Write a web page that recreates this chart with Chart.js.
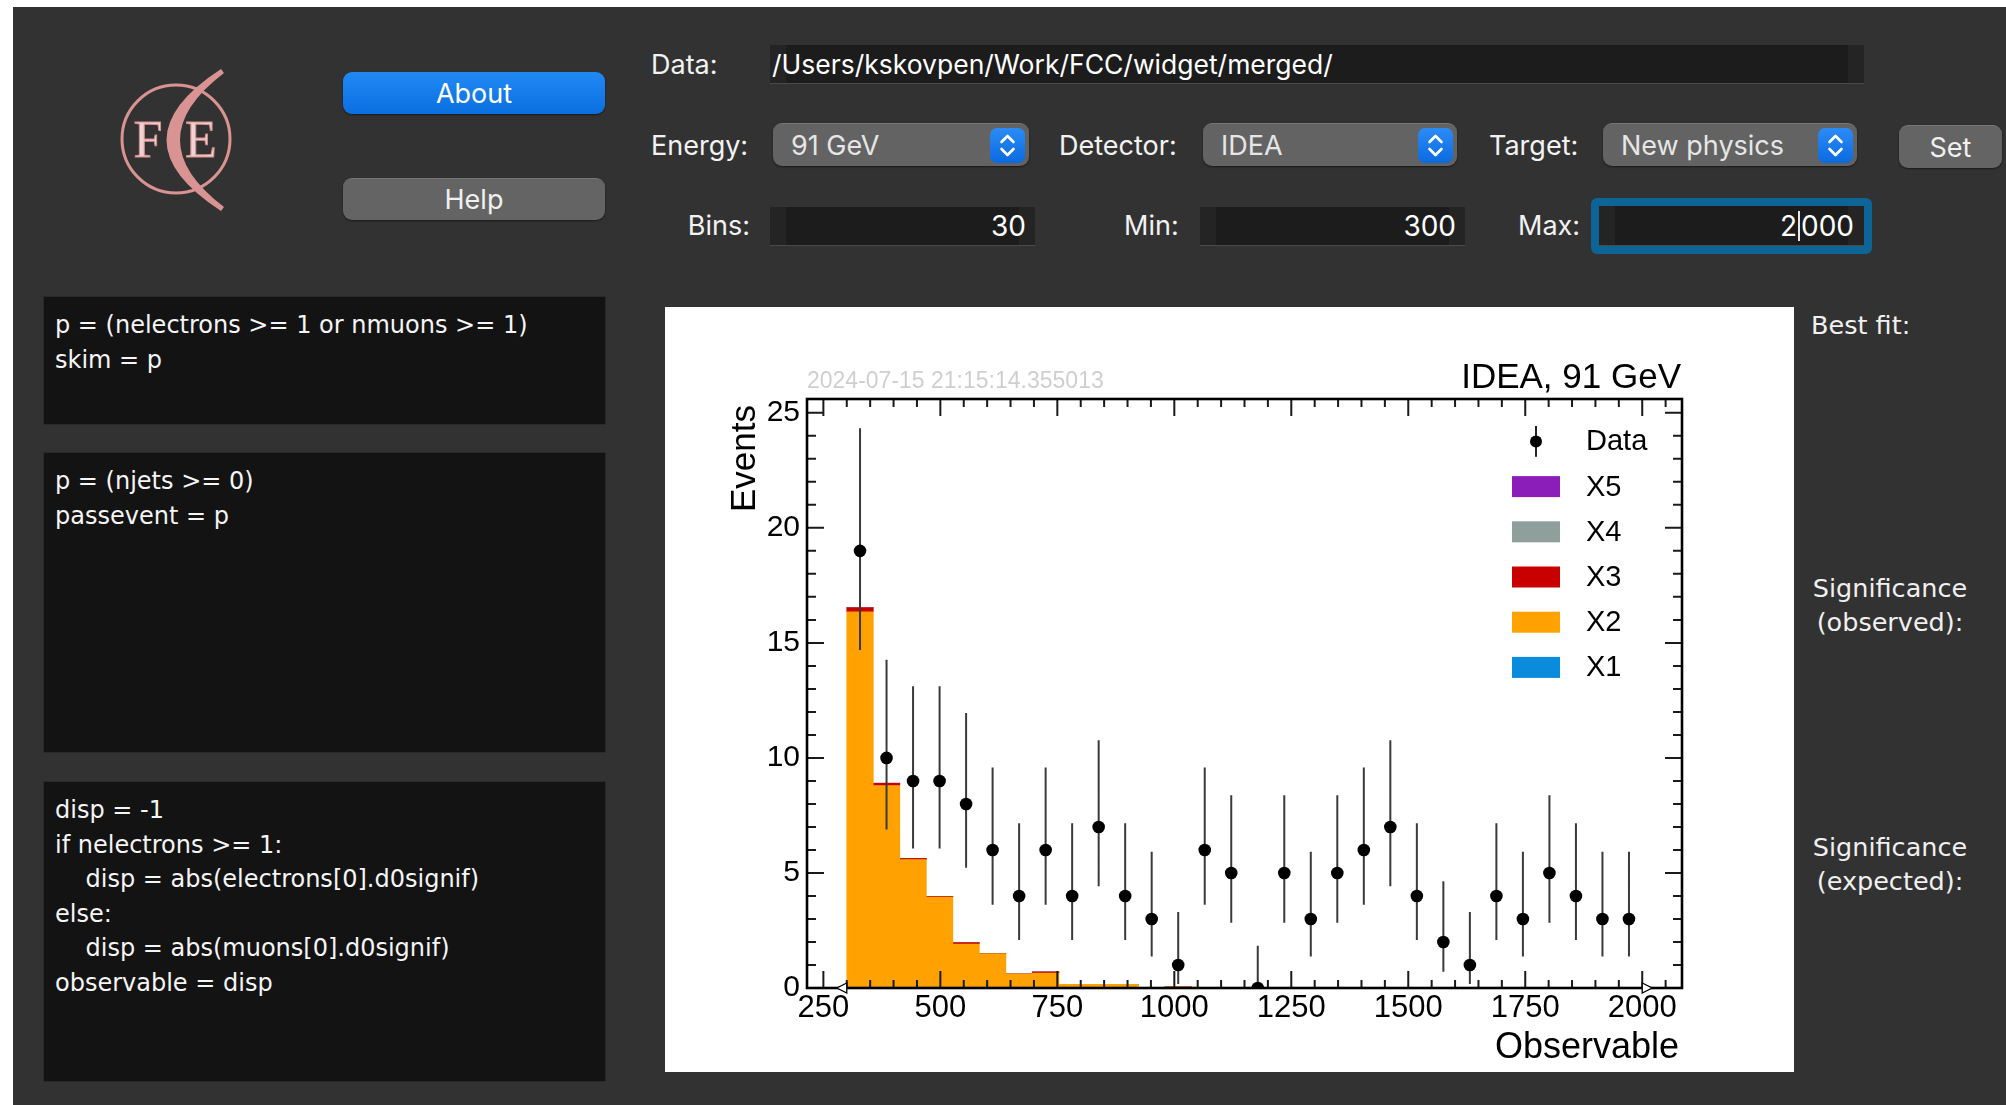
<!DOCTYPE html>
<html>
<head>
<meta charset="utf-8">
<title>FCC widget</title>
<script src="https://cdn.jsdelivr.net/npm/chart.js@4.4.1/dist/chart.umd.min.js"></script>
<style>
  html, body { margin: 0; padding: 0; }
  body {
    width: 2006px; height: 1105px; position: relative; overflow: hidden;
    background: #323232; color: #fff;
    font-family: Inter, "Noto Sans", sans-serif;
  }
  .strip-top { position: absolute; left: 0; top: 0; width: 2006px; height: 7px; background: #fff; }
  .strip-left { position: absolute; left: 0; top: 0; width: 13px; height: 1105px; background: #fff; }
  .btn {
    position: absolute; box-sizing: border-box; border-radius: 9px;
    display: flex; align-items: center; justify-content: center;
    font-size: 27px; color: #fff;
  }
  .btn.blue { background: linear-gradient(#2189f4, #0a6fe0); box-shadow: 0 1px 2px rgba(0,0,0,.5); }
  .btn.gray { background: #646464; border-top: 1px solid #777; box-shadow: 0 1px 2px rgba(0,0,0,.5); color: #f0f0f0; }
  .lbl { position: absolute; font-size: 27px; line-height: 40px; height: 40px; color: #f2f2f2; white-space: nowrap; }
  .field {
    position: absolute; box-sizing: border-box; font-size: 28px; color: #fff; white-space: nowrap;
    display: flex; align-items: center;
    background: linear-gradient(to right, #242424 0 16px, #1c1c1c 16px calc(100% - 16px), #242424 calc(100% - 16px));
    border-bottom: 1px solid #4a4a4a;
  }
  .field.num { justify-content: flex-end; padding-right: 9px; }
  .select {
    position: absolute; box-sizing: border-box; border-radius: 9px;
    background: #636363; border-top: 1px solid #767676; box-shadow: 0 1px 2px rgba(0,0,0,.5);
    font-size: 27px; color: #e6e6e6; display: flex; align-items: center; padding-left: 18px;
  }
  .stepper {
    position: absolute; right: 4px; top: 4px; width: 35px; height: 35px; border-radius: 7px;
    background: linear-gradient(#2b8cf6, #0a6ae0);
  }
  .stepper svg { display: block; }
  .focus { position: absolute; box-sizing: border-box; border-radius: 6px; background: #0d6597; }
  .cursor { display: inline-block; width: 2px; height: 30px; background: #e8e8e8; vertical-align: middle; margin: 0 1px; }
  .code {
    position: absolute; left: 43px; width: 563px; box-sizing: border-box;
    background: #131313; border: 1px solid #292929;
    padding: 11px 0 0 11px; margin: 0;
    font-family: "DejaVu Sans", sans-serif; font-size: 24px; line-height: 34.5px; color: #f5f5f5;
    white-space: pre;
  }
  .side { position: absolute; font-family: "DejaVu Sans", sans-serif; font-size: 25.5px; line-height: 34px; color: #f0f0f0; white-space: pre; }
  .plot { position: absolute; left: 665px; top: 307px; width: 1129px; height: 765px; background: #fff; }
</style>
</head>
<body>
<div class="strip-top"></div>
<div class="strip-left"></div>

<!-- FCC logo -->
<svg style="position:absolute;left:100px;top:50px" width="160" height="180" viewBox="100 50 160 180">
  <circle cx="176" cy="139" r="54" fill="none" stroke="#d99393" stroke-width="3"/>
  <path d="M221 69 Q112 140 221 211 L224 207 Q136 140 224 73 Z" fill="#d99393"/>
  <text x="148" y="157" text-anchor="middle" font-family="Liberation Serif, DejaVu Serif, serif" font-size="52" fill="#f0d2d2" stroke="#d48c8c" stroke-width="1">F</text>
  <text x="201" y="157" text-anchor="middle" font-family="Liberation Serif, DejaVu Serif, serif" font-size="52" fill="#f0d2d2" stroke="#d48c8c" stroke-width="1">E</text>
</svg>

<div class="btn blue" style="left:343px;top:72px;width:262px;height:42px;">About</div>
<div class="btn gray" style="left:343px;top:178px;width:262px;height:42px;">Help</div>

<!-- data path row -->
<div class="lbl" style="left:651px;top:45px;">Data:</div>
<div class="field" style="left:770px;top:45px;width:1094px;height:39px;padding-left:2px;font-size:26.5px;">/Users/kskovpen/Work/FCC/widget/merged/</div>

<!-- selector row -->
<div class="lbl" style="left:651px;top:126px;">Energy:</div>
<div class="select" style="left:773px;top:123px;width:256px;height:43px;">91 GeV
  <div class="stepper"><svg width="35" height="35" viewBox="0 0 35 35"><path d="M11.5 14 L17.5 8 L23.5 14 M11.5 21 L17.5 27 L23.5 21" fill="none" stroke="#fff" stroke-width="2.6" stroke-linecap="round" stroke-linejoin="round"/></svg></div>
</div>
<div class="lbl" style="left:1059px;top:126px;">Detector:</div>
<div class="select" style="left:1203px;top:123px;width:254px;height:43px;">IDEA
  <div class="stepper"><svg width="35" height="35" viewBox="0 0 35 35"><path d="M11.5 14 L17.5 8 L23.5 14 M11.5 21 L17.5 27 L23.5 21" fill="none" stroke="#fff" stroke-width="2.6" stroke-linecap="round" stroke-linejoin="round"/></svg></div>
</div>
<div class="lbl" style="left:1489px;top:126px;">Target:</div>
<div class="select" style="left:1603px;top:123px;width:254px;height:43px;">New physics
  <div class="stepper"><svg width="35" height="35" viewBox="0 0 35 35"><path d="M11.5 14 L17.5 8 L23.5 14 M11.5 21 L17.5 27 L23.5 21" fill="none" stroke="#fff" stroke-width="2.6" stroke-linecap="round" stroke-linejoin="round"/></svg></div>
</div>
<div class="btn gray" style="left:1899px;top:125px;width:103px;height:43px;">Set</div>

<!-- binning row -->
<div class="lbl" style="left:640px;top:206px;width:110px;text-align:right;">Bins:</div>
<div class="field num" style="left:770px;top:207px;width:265px;height:39px;">30</div>
<div class="lbl" style="left:1124px;top:206px;">Min:</div>
<div class="field num" style="left:1200px;top:207px;width:265px;height:39px;">300</div>
<div class="lbl" style="left:1518px;top:206px;">Max:</div>
<div class="focus" style="left:1591px;top:198px;width:281px;height:56px;"></div>
<div class="field num" style="left:1599px;top:206px;width:265px;height:40px;padding-right:10px;">2<span class="cursor"></span>000</div>

<!-- selection code -->
<pre class="code" style="top:296px;height:129px;">p = (nelectrons &gt;= 1 or nmuons &gt;= 1)
skim = p</pre>
<pre class="code" style="top:452px;height:301px;">p = (njets &gt;= 0)
passevent = p</pre>
<pre class="code" style="top:781px;height:301px;">disp = -1
if nelectrons &gt;= 1:
    disp = abs(electrons[0].d0signif)
else:
    disp = abs(muons[0].d0signif)
observable = disp</pre>

<!-- fit results -->
<div class="side" style="left:1811px;top:308px;">Best fit:</div>
<div class="side" style="left:1790px;top:571px;width:200px;text-align:center;">Significance
(observed):</div>
<div class="side" style="left:1790px;top:830px;width:200px;text-align:center;">Significance
(expected):</div>

<div class="plot"><canvas id="hist" width="1129" height="765"></canvas></div>

<script>
// Histogram definition (same as the Bins / Min / Max fields)
const nBins = 30;
const histMin = 300;
const histMax = 2000;

// Observed events per bin and asymmetric Poisson uncertainties
const observed = [19, 10, 9, 9, 8, 6, 4, 6, 4, 7, 4, 3, 1, 6, 5, 0, 5, 3, 5, 6, 7, 4, 2, 1, 4, 3, 5, 4, 3, 3];
const errLow  = [4.31, 3.11, 2.94, 2.94, 2.77, 2.38, 1.91, 2.38, 1.91, 2.58, 1.91, 1.63, 0.83, 2.38, 2.16,
                 0.00, 2.16, 1.63, 2.16, 2.38, 2.58, 1.91, 1.29, 0.83, 1.91, 1.63, 2.16, 1.91, 1.63, 1.63];
const errHigh = [5.33, 4.27, 4.11, 4.11, 3.95, 3.58, 3.16, 3.58, 3.16, 3.77, 3.16, 2.92, 2.30, 3.58, 3.38,
                 1.84, 3.38, 2.92, 3.38, 3.58, 3.77, 3.16, 2.64, 2.30, 3.16, 2.92, 3.38, 3.16, 2.92, 2.92];

// Stacked expectation per component
const x1Events = [0, 0, 0, 0, 0, 0, 0, 0, 0, 0, 0, 0, 0, 0, 0, 0, 0, 0, 0, 0, 0, 0, 0, 0, 0, 0, 0, 0, 0, 0];
const x2Events = [16.35, 8.80, 5.58, 3.95, 1.91, 1.49, 0.61, 0.65, 0.16, 0.16, 0.16, 0, 0.05, 0, 0,
                  0, 0, 0, 0, 0, 0, 0, 0, 0, 0, 0, 0, 0, 0, 0];
const x3Events = [0.18, 0.10, 0.05, 0.03, 0.06, 0, 0, 0.05, 0, 0, 0, 0, 0, 0, 0,
                  0, 0, 0, 0, 0, 0, 0, 0, 0, 0, 0, 0, 0, 0, 0];
const x4Events = [0, 0, 0, 0, 0, 0, 0, 0, 0, 0, 0, 0, 0, 0, 0, 0, 0, 0, 0, 0, 0, 0, 0, 0, 0, 0, 0, 0, 0, 0];
const x5Events = [0, 0, 0, 0, 0, 0, 0, 0, 0, 0, 0, 0, 0, 0, 0, 0, 0, 0, 0, 0, 0, 0, 0, 0, 0, 0, 0, 0, 0, 0];

const componentLabels = ['X1', 'X2', 'X3', 'X4', 'X5'];
const componentColors = ['#0a8bdc', '#ffa100', '#c80000', '#8e9f9c', '#8b1db8'];
const componentEvents = [x1Events, x2Events, x3Events, x4Events, x5Events];

// Axis ranges and labelled ticks
const xRange = [215, 2085];
const yRange = [0, 25.6];
const xTickLabels = [250, 500, 750, 1000, 1250, 1500, 1750, 2000];
const yTickLabels = [0, 5, 10, 15, 20, 25];
const xMinorStep = 50;
const yMinorStep = 1;

const plotTitle = 'IDEA, 91 GeV';
const timeStamp = '2024-07-15 21:15:14.355013';
const xTitle = 'Observable';
const yTitle = 'Events';

const binWidth = (histMax - histMin) / nBins;
const binCenters = observed.map((_, i) => histMin + (i + 0.5) * binWidth);

const FONT = '"Liberation Sans", Arial, Helvetica, sans-serif';

// ROOT-style frame, inward ticks, error bars, legend and labels
const rootStyle = {
  id: 'rootStyle',
  beforeDatasetDraw(chart, args) {
    if (args.index !== 0) return;
    const { ctx, chartArea: a, scales: { x, y } } = chart;
    ctx.save();
    ctx.beginPath();
    ctx.rect(a.left, a.top, a.right - a.left, a.bottom - a.top);
    ctx.clip();
    ctx.strokeStyle = '#3a3a3a';
    ctx.lineWidth = 2;
    ctx.beginPath();
    observed.forEach((n, i) => {
      const px = x.getPixelForValue(binCenters[i]);
      ctx.moveTo(px, y.getPixelForValue(n - errLow[i]));
      ctx.lineTo(px, y.getPixelForValue(n + errHigh[i]));
    });
    ctx.stroke();
    ctx.restore();
  },
  afterDatasetsDraw(chart) {
    const { ctx, chartArea: a, scales: { x, y } } = chart;
    ctx.save();
    // ticks on all four sides, pointing inward
    ctx.strokeStyle = '#1a1a1a';
    ctx.lineWidth = 2;
    ctx.beginPath();
    for (let v = Math.ceil(xRange[0] / xMinorStep) * xMinorStep; v <= xRange[1]; v += xMinorStep) {
      const len = xTickLabels.includes(v) ? 17 : 8;
      const px = x.getPixelForValue(v);
      ctx.moveTo(px, a.bottom); ctx.lineTo(px, a.bottom - len);
      ctx.moveTo(px, a.top); ctx.lineTo(px, a.top + len);
    }
    for (let v = Math.ceil(yRange[0] / yMinorStep) * yMinorStep; v <= yRange[1]; v += yMinorStep) {
      const len = yTickLabels.includes(v) ? 17 : 9;
      const py = y.getPixelForValue(v);
      ctx.moveTo(a.left, py); ctx.lineTo(a.left + len, py);
      ctx.moveTo(a.right, py); ctx.lineTo(a.right - len, py);
    }
    ctx.stroke();
    // frame
    ctx.strokeStyle = '#000';
    ctx.lineWidth = 2.6;
    ctx.strokeRect(a.left, a.top, a.right - a.left, a.bottom - a.top);
    // histogram range markers
    ctx.lineWidth = 1.3;
    ctx.fillStyle = '#fff';
    ctx.strokeStyle = '#000';
    const lx = x.getPixelForValue(histMin), rx = x.getPixelForValue(histMax);
    ctx.beginPath();
    ctx.moveTo(lx, a.bottom - 5); ctx.lineTo(lx - 10, a.bottom); ctx.lineTo(lx, a.bottom + 5); ctx.closePath();
    ctx.fill(); ctx.stroke();
    ctx.beginPath();
    ctx.moveTo(rx, a.bottom - 5); ctx.lineTo(rx + 10, a.bottom); ctx.lineTo(rx, a.bottom + 5); ctx.closePath();
    ctx.fill(); ctx.stroke();
    ctx.restore();
  },
  afterDraw(chart) {
    const { ctx, chartArea: a } = chart;
    ctx.save();
    // time stamp and title
    ctx.textBaseline = 'alphabetic';
    ctx.font = `23px ${FONT}`;
    ctx.fillStyle = '#cfcfcf';
    ctx.textAlign = 'left';
    ctx.fillText(timeStamp, a.left, a.top - 11.5);
    ctx.font = `35px ${FONT}`;
    ctx.fillStyle = '#000';
    ctx.textAlign = 'right';
    ctx.fillText(plotTitle, a.right - 1, a.top - 11);
    // axis titles
    ctx.save();
    ctx.translate(a.left - 52, a.top + 6);
    ctx.rotate(-Math.PI / 2);
    ctx.fillText(yTitle, 0, 0);
    ctx.restore();
    ctx.font = `36px ${FONT}`;
    ctx.fillText(xTitle, a.right - 3, a.bottom + 70);
    // legend
    const boxL = a.right - 170, boxW = 48, boxH = 21;
    const textL = a.right - 96;
    const rowH = 45.2;
    let cy = a.top + 42.4;
    ctx.font = `29px ${FONT}`;
    ctx.textAlign = 'left';
    ctx.textBaseline = 'middle';
    const mx = boxL + boxW / 2;
    ctx.strokeStyle = '#222';
    ctx.lineWidth = 2;
    ctx.beginPath(); ctx.moveTo(mx, cy - 15.3); ctx.lineTo(mx, cy + 15.3); ctx.stroke();
    ctx.fillStyle = '#000';
    ctx.beginPath(); ctx.arc(mx, cy, 6, 0, Math.PI * 2); ctx.fill();
    ctx.fillText('Data', textL, cy + 1);
    for (let k = componentLabels.length - 1; k >= 0; k--) {
      cy += rowH;
      ctx.fillStyle = componentColors[k];
      ctx.fillRect(boxL, cy - boxH / 2, boxW, boxH);
      ctx.fillStyle = '#000';
      ctx.fillText(componentLabels[k], textL, cy + 1);
    }
    ctx.restore();
  }
};

const datasets = [{
  type: 'scatter',
  label: 'Data',
  data: binCenters.map((x, i) => ({ x, y: observed[i] })),
  backgroundColor: '#000',
  borderColor: '#000',
  borderWidth: 0,
  pointRadius: 6.3,
  pointHoverRadius: 6.3,
  order: 0,
  stack: 'obs'
}];
componentLabels.forEach((label, k) => {
  datasets.push({
    type: 'bar',
    label,
    data: binCenters.map((x, i) => ({ x, y: componentEvents[k][i] })),
    backgroundColor: componentColors[k],
    borderWidth: 0,
    barPercentage: 1,
    categoryPercentage: 1,
    order: 1,
    stack: 'mc'
  });
});

new Chart(document.getElementById('hist'), {
  type: 'bar',
  data: { datasets },
  options: {
    responsive: false,
    animation: false,
    devicePixelRatio: 1,
    layout: { padding: { left: 0, right: 112, top: 92, bottom: 0 } },
    plugins: { legend: { display: false }, tooltip: { enabled: false } },
    scales: {
      x: {
        type: 'linear', min: xRange[0], max: xRange[1], offset: false, stacked: true,
        grid: { display: false, drawTicks: false }, border: { display: false },
        afterBuildTicks: s => { s.ticks = xTickLabels.map(v => ({ value: v })); },
        afterFit: s => { s.height = 84; },
        ticks: {
          autoSkip: false, maxRotation: 0, padding: 2, color: '#000',
          font: { family: FONT, size: 31 },
          callback: v => String(v)
        }
      },
      y: {
        type: 'linear', min: yRange[0], max: yRange[1], stacked: true,
        grid: { display: false, drawTicks: false }, border: { display: false },
        afterBuildTicks: s => { s.ticks = yTickLabels.map(v => ({ value: v })); },
        afterFit: s => { s.width = 142; },
        ticks: {
          padding: 7, color: '#000',
          font: { family: FONT, size: 30 },
          callback: v => String(v)
        }
      }
    }
  },
  plugins: [rootStyle]
});
</script>
</body>
</html>
